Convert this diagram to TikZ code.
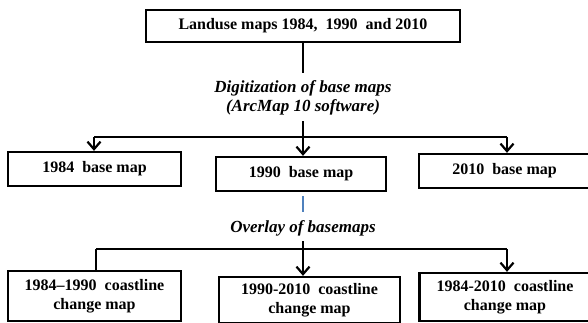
\documentclass[tikz,border=0pt]{standalone}
\usepackage{fontspec}
\setmainfont{Liberation Serif}
\usetikzlibrary{arrows.meta}
\definecolor{bluel}{RGB}{79,129,189}
\tikzset{
  box/.style={draw=black, line width=2.3pt, inner sep=0pt, align=center, font=\bfseries\fontsize{16}{19}\selectfont},
  lbl/.style={inner sep=0pt, align=center, font=\bfseries\itshape\fontsize{17}{19}\selectfont},
  conn/.style={line width=2.3pt, draw=black},
  arr/.style={conn, -{Straight Barb[length=7.5pt,width=13pt,line width=2.2pt]}},
}
\begin{document}
\begin{tikzpicture}[x=1pt,y=-1pt]
\useasboundingbox (0,0) rectangle (588,323);
\clip (0,0) rectangle (588,323);
\node[box, minimum width=314pt, minimum height=32pt] (top) at (303,26) {Landuse maps 1984,~ 1990~ and 2010};
\node[lbl] (dig) at (303,98) {Digitization of base maps\\(ArcMap 10 software)};
\node[box, minimum width=173pt, minimum height=34pt] (b84) at (94.5,169) {1984~ base map};
\node[box, minimum width=170pt, minimum height=34pt] (b90) at (301,174) {1990~ base map};
\node[box, minimum width=171pt, minimum height=34pt] (b10) at (504.5,171) {2010~ base map};
\node[lbl] (ovl) at (303,228) {Overlay of basemaps};
\node[box, minimum width=173pt, minimum height=50pt] (c1) at (94.5,296) {1984--1990~ coastline\\change map};
\node[box, minimum width=181pt, minimum height=46pt] (c2) at (309.5,300) {1990-2010~ coastline\\change map};
\node[box, minimum width=171pt, minimum height=48pt] (c3) at (505,297) {1984-2010~ coastline\\change map};
\coordinate (h1) at (303,137);
\coordinate (h1l) at (94,137);
\coordinate (h1r) at (507,137);
\coordinate (h2) at (303,249);
\coordinate (h2l) at (96,249);
\coordinate (h2r) at (507,249);
\draw[conn] (top.south) -- ++(0,30);
\draw[conn] (dig.south) ++(0,6) -- (h1);
\draw[conn] (h1l) -- (h1r);
\draw[arr] (h1l) -- (h1l |- b84.north);
\draw[arr] (h1) -- (h1 |- b90.north);
\draw[arr] (h1r) -- (h1r |- b10.north);
\draw[line width=2.3pt, draw=bluel] (b90.south -| h1) ++(0,4) -- ++(0,16);
\draw[conn] (ovl.south) ++(0,5) -- (h2);
\draw[conn] (h2l) -- (h2r);
\draw[conn] (h2l) -- (h2l |- c1.north);
\draw[arr] (h2) -- (h2 |- c2.north);
\draw[arr] (h2r) -- (h2r |- c3.north);
\end{tikzpicture}
\end{document}
